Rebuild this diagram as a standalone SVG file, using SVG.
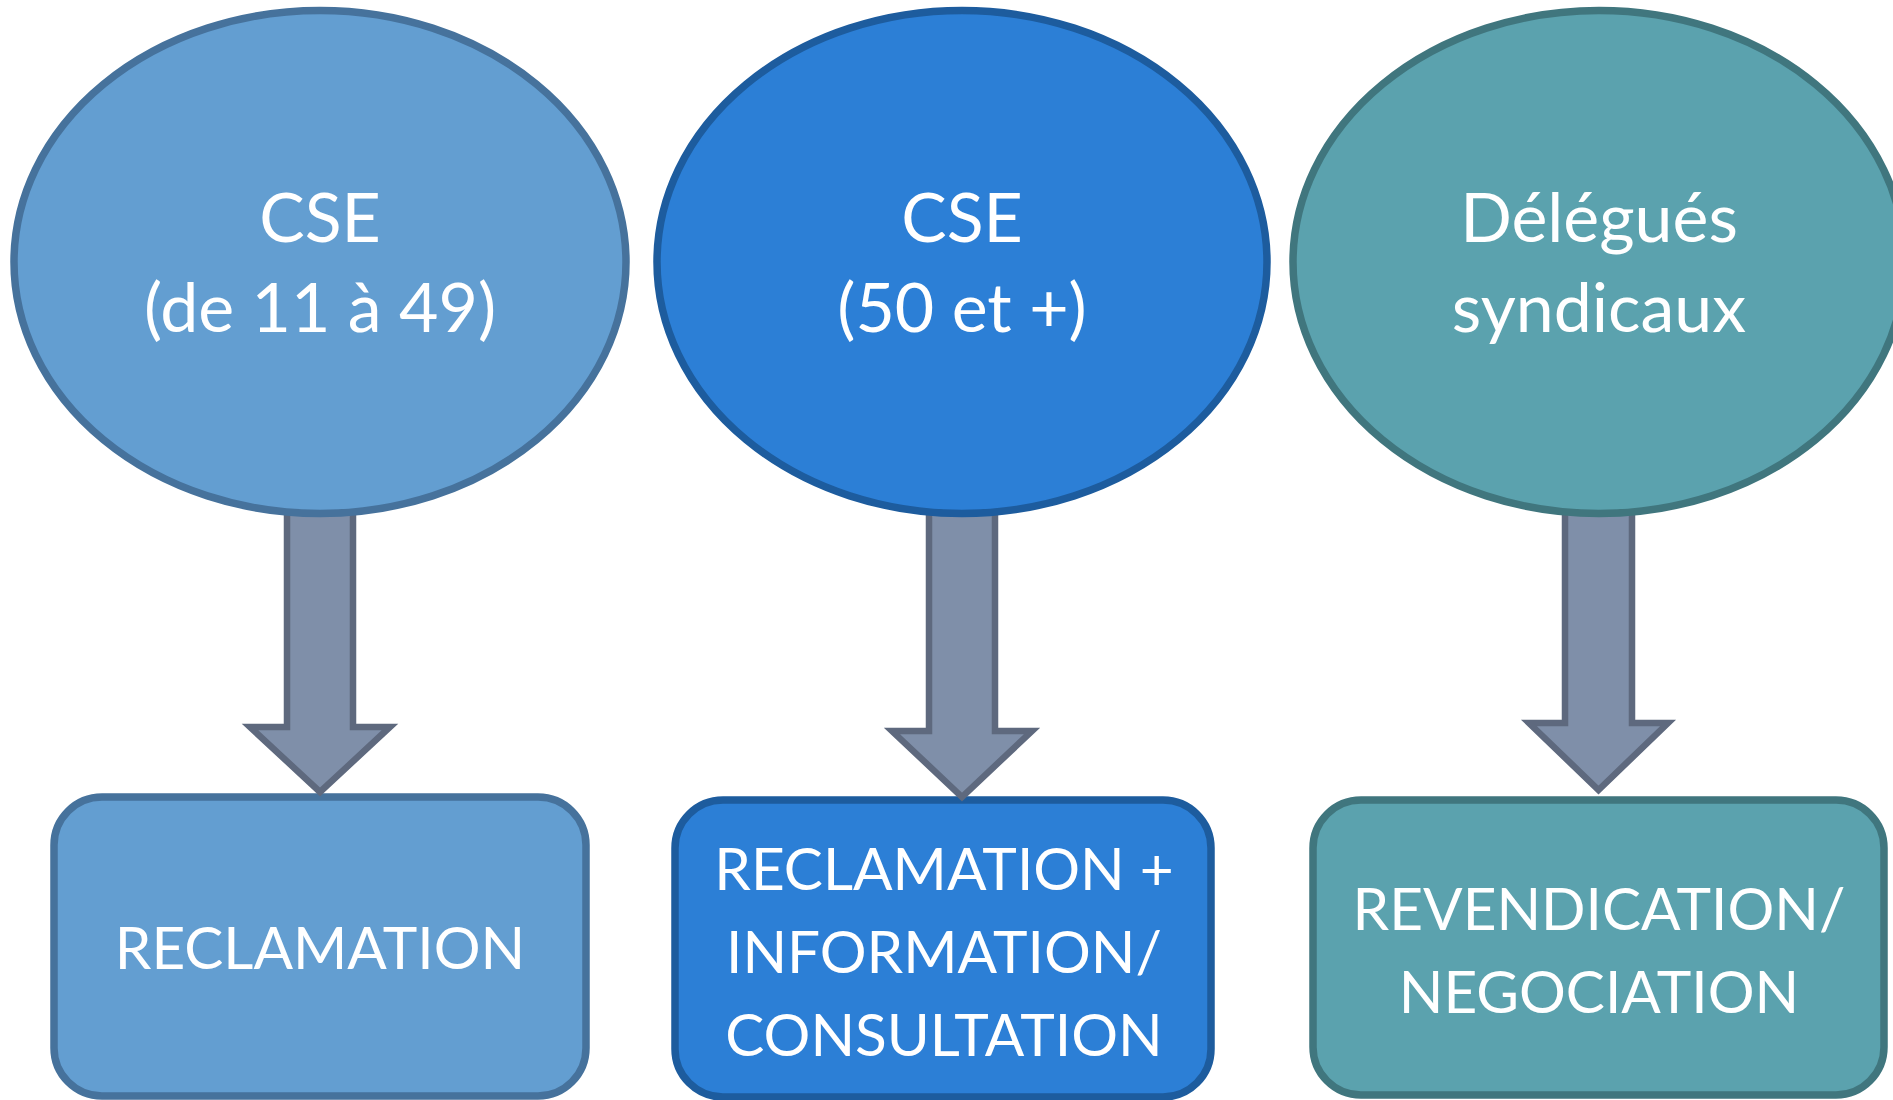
<svg xmlns="http://www.w3.org/2000/svg" width="1893" height="1100" viewBox="0 0 1893 1100">
<style>
text{font-family:Lato,"Open Sans","Liberation Sans",sans-serif;fill:#fff;text-anchor:middle}
.big{font-size:68px}
.box{font-size:58.5px}
.n1{fill:#639ED1;stroke:#46729C;stroke-width:7.5}
.n2{fill:#2C7FD6;stroke:#1D5C9E;stroke-width:7.5}
.n3{fill:#5BA2AE;stroke:#40767E;stroke-width:7.5}
.arr{fill:#7F8FA9;stroke:#5E697E;stroke-width:6.5;stroke-linejoin:miter}
</style>
<rect width="1893" height="1100" fill="#fff"/>
<g id="box1"><rect class="n1" x="54" y="797" width="532" height="299" rx="48"/><text class="box" x="320" y="969">RECLAMATION</text></g>
<g id="box2"><rect class="n2" x="675" y="800" width="536" height="297" rx="48"/><text class="box" x="944" y="890">RECLAMATION +</text><text class="box" x="944" y="973">INFORMATION/</text><text class="box" x="944" y="1056">CONSULTATION</text></g>
<g id="box3"><rect class="n3" x="1313" y="800" width="571" height="295" rx="48"/><text class="box" x="1599" y="930">REVENDICATION/</text><text class="box" x="1599" y="1013">NEGOCIATION</text></g>
<g id="connectors">
<path class="arr" d="M287,470 L353,470 L353,727 L390,727 L320,792 L250,727 L287,727 Z"/>
<path class="arr" d="M929,470 L995,470 L995,731 L1032,731 L962,797 L892,731 L929,731 Z"/>
<path class="arr" d="M1565,470 L1632,470 L1632,723 L1668,723 L1598.5,790 L1529,723 L1565,723 Z"/>
</g>
<g id="ell1"><ellipse class="n1" cx="320" cy="262" rx="306" ry="251.5"/><text class="big" x="320" y="242">CSE</text><text class="big" x="320" y="332">(de 11 à 49)</text></g>
<g id="ell2"><ellipse class="n2" cx="962" cy="262" rx="305" ry="251.5"/><text class="big" x="962" y="242">CSE</text><text class="big" x="962" y="332">(50 et +)</text></g>
<g id="ell3"><ellipse class="n3" cx="1599" cy="262" rx="306" ry="251.5"/><text class="big" x="1599" y="242">Délégués</text><text class="big" x="1599" y="332">syndicaux</text></g>
</svg>
